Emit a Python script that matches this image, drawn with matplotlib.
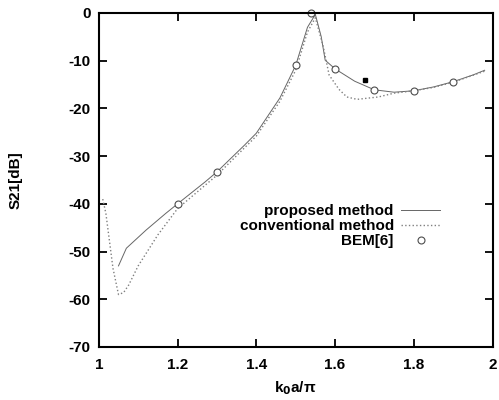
import matplotlib
matplotlib.use("Agg")
import matplotlib.pyplot as plt
import numpy as np

plt.rcParams['font.family'] = ['Liberation Sans', 'DejaVu Sans']
plt.rcParams['font.weight'] = 'bold'
plt.rcParams['axes.labelweight'] = 'bold'
plt.rcParams['axes.unicode_minus'] = False

# --- data ---
k_prop = [1.05, 1.07, 1.12, 1.17, 1.20, 1.27, 1.30, 1.37, 1.40, 1.46, 1.50, 1.53, 1.55,
          1.565, 1.575, 1.60, 1.65, 1.70, 1.75, 1.80, 1.85, 1.90, 1.95, 1.98]
s21_prop = [-53.0, -49.3, -45.5, -42.0, -40.0, -35.4, -33.3, -27.7, -25.2, -17.8, -11.0, -3.0, -0.3,
            -5.0, -9.9, -11.7, -14.3, -16.1, -16.6, -16.3, -15.5, -14.4, -13.0, -12.0]

k_conv = [1.01, 1.018, 1.036, 1.05, 1.063, 1.076, 1.10, 1.15, 1.20, 1.30, 1.40, 1.46, 1.50, 1.53,
          1.55, 1.57, 1.585, 1.61, 1.63, 1.656, 1.71, 1.75, 1.80, 1.85, 1.90, 1.98]
s21_conv = [-39.0, -42.0, -53.5, -59.0, -58.6, -57.0, -53.0, -46.5, -41.0, -34.0, -25.8, -18.5, -12.0, -4.0,
            -1.0, -7.0, -13.0, -16.0, -17.6, -18.1, -17.6, -16.8, -16.3, -15.6, -14.5, -12.2]

k_bem = [1.2, 1.3, 1.5, 1.54, 1.6, 1.7, 1.8, 1.9]
s21_bem = [-40.0, -33.3, -10.9, 0.0, -11.7, -16.1, -16.3, -14.4]

k_extra = [1.675]
s21_extra = [-14.0]

fig = plt.figure(figsize=(4.99, 4.0), dpi=100)
ax = fig.add_axes([0.198, 0.1325, 0.789, 0.835])

ax.plot(k_prop, s21_prop, '-', color='0.4', lw=0.7, label='proposed method')
ax.plot(k_conv, s21_conv, ':', color='0.5', lw=1.0, label='conventional method')
ax.plot(k_bem, s21_bem, 'o', ms=5, mfc='white', mec='0.3', mew=0.8, label='BEM[6]', clip_on=False)
ax.plot(k_extra, s21_extra, 's', ms=3, color='black')

ax.set_xlim(1, 2)
ax.set_ylim(-70, 0)
ax.set_xticks(np.arange(1, 2.01, 0.2))
ax.set_xticklabels(['1', '1.2', '1.4', '1.6', '1.8', '2'])
ax.set_yticks(np.arange(-70, 1, 10))

ax.tick_params(direction='in', length=6, width=1.3, top=True, right=True,
               labelsize=11)
ax.tick_params(axis='x', pad=8)
ax.tick_params(axis='y', pad=6)
for sp in ax.spines.values():
    sp.set_linewidth(1.5)

ax.set_xlabel('k$_0$a/\u03c0', fontsize=11, labelpad=5)
ax.set_ylabel('S21[dB]', fontsize=11, labelpad=33)

ax.legend(loc='upper right', bbox_to_anchor=(0.885, 0.45), frameon=False,
          markerfirst=False, fontsize=11, labelspacing=0.05, borderpad=0,
          handlelength=2.5, handletextpad=0.5)

fig.savefig('out.png', dpi=100)
